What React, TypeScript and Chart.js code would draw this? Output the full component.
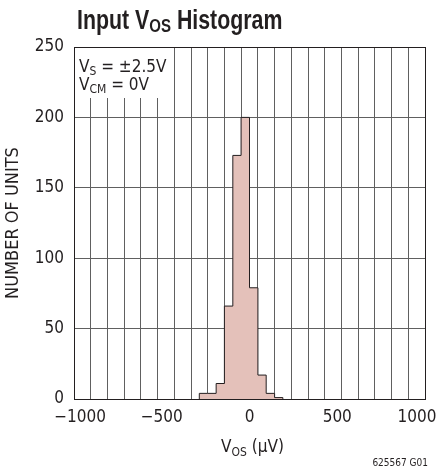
import { useEffect, useRef } from "react";
import { Chart, registerables } from "chart.js";

Chart.register(...registerables);

// ---- data ----
const binEdges = [-286, -238, -190, -143, -95, -48, 0, 48, 95, 143, 190]; // µV
const counts = [4, 4, 11, 66, 173, 200, 79, 17, 4, 1]; // units per bin
const xTickLabels = [-1000, -500, 0, 500, 1000];
const yTickLabels = [0, 50, 100, 150, 200, 250];
const X_MIN = -1000;
const X_MAX = 1000;
const Y_MIN = 0;
const Y_MAX = 250;
const X_GRID_DIVISIONS = 21;

const FONT = "'DejaVu Sans Condensed', 'Liberation Sans', Arial, sans-serif";
const TITLE_FONT = "'Liberation Sans', Arial, sans-serif";
const INK = "#231f20";
const GRID = "#606060";
const FILL = "#e4c1ba";

type Part = { t: string; sub?: boolean };

function drawRich(
  ctx: CanvasRenderingContext2D,
  x: number,
  y: number,
  parts: Part[],
  mainFont: string,
  subFont: string,
  subDy: number,
  align: "left" | "center" | "right" = "left",
  sx = 1
) {
  ctx.save();
  ctx.textBaseline = "alphabetic";
  ctx.textAlign = "left";
  let total = 0;
  const widths = parts.map((p) => {
    ctx.font = p.sub ? subFont : mainFont;
    const w = ctx.measureText(p.t).width;
    total += w;
    return w;
  });
  let start = x;
  if (align === "center") start = x - (total * sx) / 2;
  if (align === "right") start = x - total * sx;
  ctx.translate(start, y);
  ctx.scale(sx, 1);
  let cx = 0;
  parts.forEach((p, i) => {
    ctx.font = p.sub ? subFont : mainFont;
    ctx.fillText(p.t, cx, p.sub ? subDy : 0);
    cx += widths[i];
  });
  ctx.restore();
}

const decor = {
  id: "decor",
  beforeDraw(chart: any) {
    // end labels sit slightly inside the frame in the reference
    const s = chart.scales.x;
    const items = s.getLabelItems();
    if (items && items.length && !(items as any).__nudged) {
      items[0].options.translation[0] += 6;
      items[items.length - 1].options.translation[0] -= 8;
      (items as any).__nudged = true;
    }
  },
  beforeDatasetsDraw(chart: any) {
    const { ctx, chartArea: a } = chart;
    ctx.save();
    ctx.fillStyle = "#ffffff";
    ctx.fillRect(a.left + 1, a.top + 1, 91, 50);
    ctx.restore();
  },
  afterDraw(chart: any) {
    const { ctx, chartArea: a } = chart;
    ctx.save();
    ctx.strokeStyle = INK;
    ctx.lineWidth = 1;
    ctx.strokeRect(
      Math.round(a.left) + 0.5,
      Math.round(a.top) + 0.5,
      Math.round(a.right - a.left),
      Math.round(a.bottom - a.top)
    );
    ctx.fillStyle = INK;
    // title
    drawRich(
      ctx,
      77,
      29,
      [{ t: "Input V" }, { t: "OS", sub: true }, { t: " Histogram" }],
      `bold 27px ${TITLE_FONT}`,
      `bold 19px ${TITLE_FONT}`,
      3,
      "left",
      0.79
    );
    // conditions
    drawRich(
      ctx,
      a.left + 5,
      72,
      [{ t: "V" }, { t: "S", sub: true }, { t: " = ±2.5V" }],
      `17px ${FONT}`,
      `12px ${FONT}`,
      3
    );
    drawRich(
      ctx,
      a.left + 5,
      90,
      [{ t: "V" }, { t: "CM", sub: true }, { t: " = 0V" }],
      `17px ${FONT}`,
      `12px ${FONT}`,
      3
    );
    // x axis title
    drawRich(
      ctx,
      (a.left + a.right) / 2 + 3,
      452,
      [{ t: "V" }, { t: "OS", sub: true }, { t: " (µV)" }],
      `17px ${FONT}`,
      `12px ${FONT}`,
      4,
      "center"
    );
    // figure id
    ctx.font = `10px ${FONT}`;
    ctx.textAlign = "right";
    ctx.textBaseline = "alphabetic";
    ctx.fillText("625567 G01", 428, 466);
    ctx.restore();
  },
};

export default function App() {
  const ref = useRef<HTMLCanvasElement | null>(null);

  useEffect(() => {
    if (!ref.current) return;
    const points: { x: number; y: number }[] = [{ x: binEdges[0], y: 0 }];
    counts.forEach((c, i) => points.push({ x: binEdges[i + 1], y: c }));
    points.push({ x: binEdges[binEdges.length - 1], y: 0 });

    const gridStep = (X_MAX - X_MIN) / X_GRID_DIVISIONS;
    const gridTicks: { value: number }[] = [];
    for (let k = 0; k <= X_GRID_DIVISIONS; k++) gridTicks.push({ value: X_MIN + k * gridStep });

    const chart = new Chart(ref.current, {
      type: "line",
      data: {
        datasets: [
          {
            label: "Number of units",
            data: points,
            xAxisID: "x",
            yAxisID: "y",
            stepped: "after",
            fill: "origin",
            backgroundColor: FILL,
            borderColor: INK,
            borderWidth: 1,
            pointRadius: 0,
            tension: 0,
          },
        ],
      },
      options: {
        responsive: false,
        animation: false,
        events: [],
        layout: { padding: { top: 47, right: 13, left: 0, bottom: 0 } },
        plugins: {
          legend: { display: false },
          tooltip: { enabled: false },
          title: { display: false },
        },
        scales: {
          x: {
            type: "linear",
            position: "bottom",
            min: X_MIN,
            max: X_MAX,
            afterBuildTicks: (s: any) => {
              s.ticks = xTickLabels.map((v) => ({ value: v }));
            },
            afterFit: (s: any) => {
              s.height = 73;
              s.paddingLeft = 0;
              s.paddingRight = 0;
            },
            grid: { display: false, drawTicks: false },
            border: { display: true, color: INK, width: 1 },
            ticks: {
              color: INK,
              font: { family: FONT, size: 17 },
              padding: 8,
              maxRotation: 0,
              autoSkip: false,
              callback: (v: any) => (Number(v) < 0 ? "\u2212" + Math.abs(Number(v)) : String(v)),
            },
          },
          xg: {
            type: "linear",
            position: "bottom",
            min: X_MIN,
            max: X_MAX,
            afterBuildTicks: (s: any) => {
              s.ticks = gridTicks.slice();
            },
            afterFit: (s: any) => {
              s.height = 0;
              s.paddingLeft = 0;
              s.paddingRight = 0;
            },
            grid: { display: true, color: GRID, lineWidth: 1, drawTicks: false },
            border: { display: false },
            ticks: { display: false },
          },
          y: {
            type: "linear",
            min: Y_MIN,
            max: Y_MAX,
            afterBuildTicks: (s: any) => {
              s.ticks = yTickLabels.map((v) => ({ value: v }));
            },
            afterFit: (s: any) => {
              s.width = 74;
              s.paddingTop = 0;
              s.paddingBottom = 0;
            },
            grid: { display: true, color: GRID, lineWidth: 1, drawTicks: false },
            border: { display: true, color: INK, width: 1 },
            ticks: {
              color: INK,
              font: { family: FONT, size: 17 },
              padding: 10,
            },
            title: {
              display: true,
              text: "NUMBER OF UNITS",
              color: INK,
              font: { family: FONT, size: 18 },
              padding: { top: 3, bottom: 0 },
            },
          },
        },
      },
      plugins: [decor],
    });
    return () => chart.destroy();
  }, []);

  return (
    <div style={{ position: "fixed", left: 0, top: 0, width: 438, height: 472, background: "#fff" }}>
      <canvas ref={ref} width={438} height={472} />
    </div>
  );
}
